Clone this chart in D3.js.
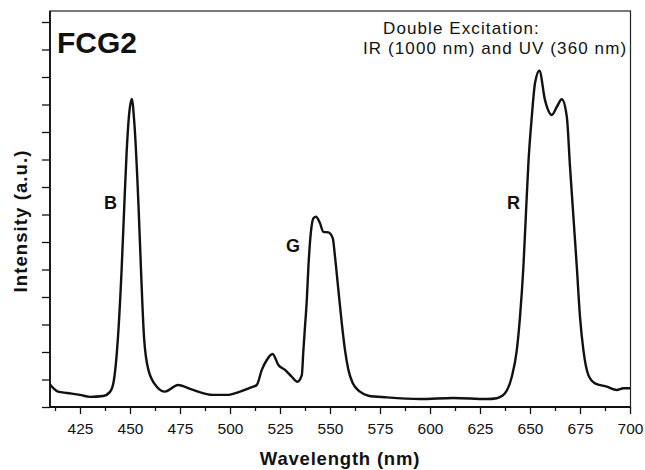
<!DOCTYPE html>
<html>
<head>
<meta charset="utf-8">
<script src="https://cdn.jsdelivr.net/npm/d3@7"></script>
<style>
  body { margin: 0; background: #fff; }
  #svgDiv { width: 645px; height: 470px; }
  text { font-family: "Liberation Sans", Arial, sans-serif; fill: #111; }
</style>
</head>
<body>
<div id="svgDiv"></div>
<script>
// spectrum
var wavelength = [410, 414, 418.5, 425, 430, 436.5, 440, 441.7, 444, 445.8, 447.2, 448.3, 449.7, 450.9,
    452.2, 454.2, 455.5, 457, 459.2, 463.4, 467.5, 474, 481.5, 491.5, 498.4, 505, 510.9, 513.4,
    515.9, 518.4, 521.3, 524.2, 527.5, 530.9, 533.7, 535.9, 536.7, 537.5, 538.4, 539.2, 540.4,
    541.7, 543, 545, 546.7, 549.2, 551.4, 552.5, 554.2, 555.9, 557.5, 559.2, 561.4, 565, 569.2,
    578.4, 595, 611.7, 628.4, 633.4, 635.9, 637.5, 640.9, 643.4, 645, 646.7, 647.9, 649.2, 650.9,
    652.5, 654.7, 657.5, 660.9, 663.4, 665.9, 668.4, 670, 671.7, 673.4, 675, 676.7, 679.2, 682.5,
    688.4, 693.4, 696.7, 700];
var intensity = [0.82, 0.56, 0.51, 0.44, 0.37, 0.40, 0.55, 0.87, 2.55, 4.98, 7.42, 9.24, 10.75, 11.2,
    10.3, 7.42, 4.98, 2.55, 1.35, 0.74, 0.56, 0.80, 0.62, 0.44, 0.44, 0.56, 0.72, 0.80,
    1.35, 1.71, 1.93, 1.53, 1.35, 1.10, 0.92, 1.16, 2.07, 2.92, 3.89, 5.10, 6.32,
    6.86, 6.92, 6.68, 6.37, 6.35, 6.13, 5.47, 4.25, 3.04, 2.07, 1.35, 0.86, 0.56, 0.41,
    0.35, 0.29, 0.33, 0.29, 0.32, 0.40, 0.50, 1.10, 2.07, 3.28, 5.10, 6.92, 8.87, 10.56,
    11.77, 12.23, 11.16, 10.62, 10.91, 11.19, 10.56, 8.74, 6.92, 5.10, 3.28, 2.07, 1.16, 0.86,
    0.74, 0.62, 0.68, 0.68];

var majorTicks = [425, 450, 475, 500, 525, 550, 575, 600, 625, 650, 675, 700];
var minorTicks = [412.5, 437.5, 462.5, 487.5, 512.5, 537.5, 562.5, 587.5, 612.5, 637.5, 662.5, 687.5];
var yTicks = [0, 1, 2, 3, 4, 5, 6, 7, 8, 9, 10, 11, 12, 13, 14];

var peakLabels = ["B", "G", "R"];
var peakWl = [437, 528, 638.5];
var peakVal = [7.2, 5.65, 7.2];

var svgWidth = 645, svgHeight = 470;
var plotLeft = 50, plotRight = 630, plotTop = 11, plotBottom = 407;

var svg = d3.select("#svgDiv").append("svg")
    .attr("width", svgWidth)
    .attr("height", svgHeight);

var xScale = d3.scaleLinear().domain([410, 700]).range([plotLeft, plotRight]);
var yScale = d3.scaleLinear().domain([0, 14.4]).range([plotBottom, plotTop]);

// frame
svg.append("rect")
    .attr("x", plotLeft).attr("y", plotTop)
    .attr("width", plotRight - plotLeft + 0.5).attr("height", plotBottom - plotTop)
    .attr("fill", "none").attr("stroke", "#222").attr("stroke-width", 1.2);

// x axis: minor then major
svg.append("g")
    .attr("transform", "translate(0," + plotBottom + ")")
    .call(d3.axisBottom(xScale).tickValues(minorTicks).tickSize(4).tickFormat(""))
    .call(g => g.select(".domain").remove())
    .selectAll("line").attr("stroke", "#111").attr("stroke-width", 1.3);

var xAxis = svg.append("g")
    .attr("transform", "translate(0," + plotBottom + ")")
    .call(d3.axisBottom(xScale).tickValues(majorTicks).tickSize(7).tickPadding(9).tickFormat(d3.format("d")));
xAxis.select(".domain").remove();
xAxis.selectAll("line").attr("stroke", "#111").attr("stroke-width", 1.3);
xAxis.selectAll("text").style("font-size", "15.5px").style("font-family", "'Liberation Sans', Arial, sans-serif").attr("fill", "#111");

var yAxis = svg.append("g")
    .attr("transform", "translate(" + plotLeft + ",0)")
    .call(d3.axisLeft(yScale).tickValues(yTicks).tickSize(8).tickFormat(""));
yAxis.select(".domain").remove();
yAxis.selectAll("line").attr("stroke", "#111").attr("stroke-width", 1.3);

// axis lines
svg.append("line").attr("x1", plotLeft).attr("x2", plotRight).attr("y1", plotBottom).attr("y2", plotBottom)
    .attr("stroke", "#111").attr("stroke-width", 1.8);
svg.append("line").attr("x1", plotLeft).attr("x2", plotLeft).attr("y1", plotTop).attr("y2", plotBottom)
    .attr("stroke", "#111").attr("stroke-width", 1.8);

// spectrum
var points = wavelength.map((w, i) => [w, intensity[i]]);
var line = d3.line()
    .x(d => xScale(d[0]))
    .y(d => yScale(d[1]))
    .curve(d3.curveMonotoneX);

svg.append("path")
    .datum(points)
    .attr("d", line)
    .attr("fill", "none")
    .attr("stroke", "#111")
    .attr("stroke-width", 2.4)
    .attr("stroke-linejoin", "round");

// peak labels
svg.selectAll(".peak")
    .data(peakLabels)
    .enter().append("text")
    .attr("class", "peak")
    .attr("x", (d, i) => xScale(peakWl[i]))
    .attr("y", (d, i) => yScale(peakVal[i]))
    .style("font-size", "18px")
    .style("font-weight", "bold")
    .text(d => d);

// titles
svg.append("text")
    .attr("x", 57).attr("y", 53)
    .style("font-size", "30px").style("font-weight", "bold")
    .text("FCG2");

svg.append("text")
    .attr("x", 383).attr("y", 34)
    .style("font-size", "17px").style("letter-spacing", "1.1px")
    .text("Double Excitation:");
svg.append("text")
    .attr("x", 363).attr("y", 54)
    .style("font-size", "17px").style("letter-spacing", "1.1px")
    .text("IR (1000 nm) and UV (360 nm)");

svg.append("text")
    .attr("x", (plotLeft + plotRight) / 2).attr("y", 465)
    .attr("text-anchor", "middle")
    .style("font-size", "18.5px").style("font-weight", "bold").style("letter-spacing", "0.8px")
    .text("Wavelength (nm)");

svg.append("text")
    .attr("transform", "translate(27,221) rotate(-90)")
    .attr("text-anchor", "middle")
    .style("font-size", "18.5px").style("font-weight", "bold").style("letter-spacing", "1.1px")
    .text("Intensity (a.u.)");
</script>
</body>
</html>
